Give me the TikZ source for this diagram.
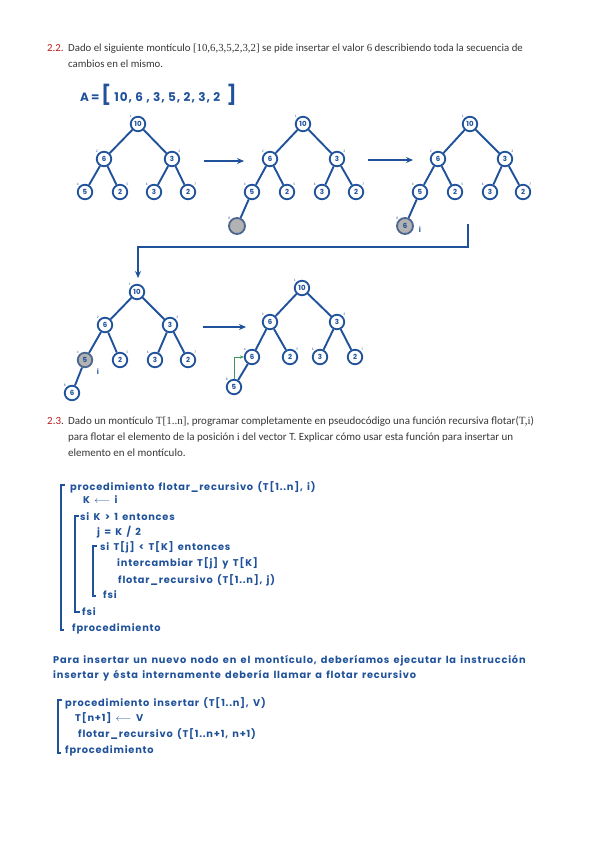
\documentclass[tikz,border=0pt]{standalone}
\usepackage{fontspec}
\setmainfont{Carlito}
\newfontfamily\serif{Liberation Serif}
\newfontfamily\hw[LetterSpace=8,WordSpace=1.5]{Poppins}
\newfontfamily\hwd{Poppins}
\usetikzlibrary{arrows.meta}
\definecolor{hblue}{RGB}{32,82,155}
\definecolor{hgreen}{RGB}{60,150,95}
\definecolor{hgray}{RGB}{178,178,178}
\definecolor{ttext}{RGB}{55,55,55}
\definecolor{tred}{RGB}{192,30,30}
\begin{document}
\begin{tikzpicture}[x=1pt,y=-1pt,
  hn/.style={circle, draw=hblue, line width=1.8pt, minimum size=14.5pt, inner sep=0pt, text=hblue, font=\hwd\bfseries\fontsize{7}{7}\selectfont},
  gn/.style={hn, fill=hgray, draw=hblue!55!gray},
  idx/.style={font=\fontsize{3.5}{3.5}\selectfont, text=hblue, inner sep=0.3pt},
  edge/.style={draw=hblue, line width=1.9pt},
  bigarrow/.style={draw=hblue, line width=1.4pt, -{Stealth[length=7pt,width=6pt]}},
  garrow/.style={draw=hgreen, line width=0.9pt, -{Stealth[length=4pt,width=3.5pt]}},
  ptext/.style={anchor=base west, inner sep=0pt, text=ttext, font=\fontsize{10.8}{12}\selectfont},
  ptextb/.style={ptext, font=\fontsize{11}{12}\selectfont},
  hwtext/.style={anchor=base west, inner sep=0pt, text=hblue, font=\hw\bfseries\fontsize{9.8}{10}\selectfont},
  brk/.style={draw=hblue, line width=1.3pt},
  ilab/.style={inner sep=0pt, text=hblue, font=\hwd\bfseries\fontsize{7}{7}\selectfont}]
\fill[white] (0,0) rectangle (599,848);
\useasboundingbox (0,0) rectangle (599,848);

% ---------- exercise 2.2 text ----------
\node[ptext] (t22n) at (47,52) {\textcolor{tred}{2.2.}};
\node[ptext] (t22a) at (68,52) {Dado el siguiente montículo {\serif [10,6,3,5,2,3,2]} se pide insertar el valor {\serif 6} describiendo toda la secuencia de};
\node[ptext] (t22b) at (68,68) {cambios en el mismo.};

\node[anchor=base west, inner sep=0pt, text=hblue, font=\hw\bfseries\fontsize{12}{12}\selectfont] (arr) at (80,102)
  {A\,=\,{\fontsize{19}{19}\selectfont[}\;10,\;6\;,\;3,\;5,\;2,\;3,\;2\;\;{\fontsize{19}{19}\selectfont]}};

% ---------- tree 1 ----------
\begin{scope}[shift={(138,124)}]
\node[hn, label={[idx]135:1}] (a1) at (0,0) {10};
\node[hn, label={[idx]135:2}] (a2) at (-34,35) {6};
\node[hn, label={[idx]45:3}] (a3) at (34,35) {3};
\node[hn, label={[idx]135:4}] (a4) at (-53,68) {5};
\node[hn, label={[idx]45:5}] (a5) at (-18,68) {2};
\node[hn, label={[idx]135:6}] (a6) at (16,68) {3};
\node[hn, label={[idx]45:7}] (a7) at (50,68) {2};
\end{scope}
\draw[edge] (a1)--(a2) (a1)--(a3) (a2)--(a4) (a2)--(a5) (a3)--(a6) (a3)--(a7);

% ---------- tree 2 ----------
\begin{scope}[shift={(303,124)}]
\node[hn, label={[idx]135:1}] (b1) at (0,0) {10};
\node[hn, label={[idx]135:2}] (b2) at (-33,35) {6};
\node[hn, label={[idx]45:3}] (b3) at (34,35) {3};
\node[hn, label={[idx]135:4}] (b4) at (-51,68) {5};
\node[hn, label={[idx]45:5}] (b5) at (-16,68) {2};
\node[hn, label={[idx]135:6}] (b6) at (19,68) {3};
\node[hn, label={[idx]45:7}] (b7) at (53,68) {2};
\node[gn, minimum size=16pt, label={[idx]135:8}] (b8) at (-66,102) {};
\end{scope}
\draw[edge] (b1)--(b2) (b1)--(b3) (b2)--(b4) (b2)--(b5) (b3)--(b6) (b3)--(b7) (b4)--(b8);

% ---------- tree 3 ----------
\begin{scope}[shift={(470,124)}]
\node[hn, label={[idx]135:1}] (c1) at (0,0) {10};
\node[hn, label={[idx]135:2}] (c2) at (-32,35) {6};
\node[hn, label={[idx]45:3}] (c3) at (35,35) {3};
\node[hn, label={[idx]135:4}] (c4) at (-50,68) {5};
\node[hn, label={[idx]45:5}] (c5) at (-15,68) {2};
\node[hn, label={[idx]135:6}] (c6) at (20,68) {3};
\node[hn, label={[idx]45:7}] (c7) at (53,68) {2};
\node[gn, minimum size=16pt, label={[idx]135:8}] (c8) at (-65,102) {6};
\end{scope}
\draw[edge] (c1)--(c2) (c1)--(c3) (c2)--(c4) (c2)--(c5) (c3)--(c6) (c3)--(c7) (c4)--(c8);
\node[ilab] (ci) at (420,230) {i};

% ---------- tree 4 ----------
\begin{scope}[shift={(137,292)}]
\node[hn, label={[idx]135:1}] (d1) at (0,0) {10};
\node[hn, label={[idx]135:2}] (d2) at (-32,33) {6};
\node[hn, label={[idx]45:3}] (d3) at (33,33) {3};
\node[gn, label={[idx]135:4}] (d4) at (-52,68) {5};
\node[hn, label={[idx]45:5}] (d5) at (-17,68) {2};
\node[hn, label={[idx]135:6}] (d6) at (18,68) {3};
\node[hn, label={[idx]45:7}] (d7) at (51,68) {2};
\node[hn, label={[idx]135:8}] (d8) at (-65,101) {6};
\end{scope}
\draw[edge] (d1)--(d2) (d1)--(d3) (d2)--(d4) (d2)--(d5) (d3)--(d6) (d3)--(d7) (d4)--(d8);
\node[ilab] (di) at (98,372) {i};

% ---------- tree 5 ----------
\begin{scope}[shift={(302,288)}]
\node[hn, label={[idx]135:1}] (e1) at (0,0) {10};
\node[hn, label={[idx]135:2}] (e2) at (-32,34) {6};
\node[hn, label={[idx]45:3}] (e3) at (35,34) {3};
\node[hn, label={[idx]135:4}] (e4) at (-50,69) {6};
\node[hn, label={[idx]45:5}] (e5) at (-12,69) {2};
\node[hn, label={[idx]135:6}] (e6) at (18,69) {3};
\node[hn, label={[idx]45:7}] (e7) at (53,69) {2};
\node[hn, label={[idx]135:8}] (e8) at (-68,99) {5};
\end{scope}
\draw[edge] (e1)--(e2) (e1)--(e3) (e2)--(e4) (e2)--(e5) (e3)--(e6) (e3)--(e7) (e4)--(e8);
\draw[garrow] (e8.north) |- (e4.west);

% ---------- arrows between trees ----------
\coordinate (p1s) at (204,161);
\coordinate (p1e) at (244,161);
\coordinate (p2s) at (368,160);
\coordinate (p2e) at (413,160);
\coordinate (p3s) at (203,327);
\coordinate (p3e) at (246,327);
\draw[bigarrow] (p1s) -- (p1e);
\draw[bigarrow] (p2s) -- (p2e);
\draw[bigarrow] (p3s) -- (p3e);
\coordinate (cs) at (468,224);
\coordinate (ce) at (138,278);
\draw[bigarrow] (cs) -- ++(0,23) -| (ce);

% ---------- exercise 2.3 text ----------
\node[ptextb] (t23n) at (47,424) {\textcolor{tred}{2.3}.};
\node[ptextb] (t23a) at (68,424) {Dado un montículo {\serif T[1..n]}, programar completamente en pseudocódigo una función recursiva flotar({\serif T,i})};
\node[ptextb] (t23b) at (68,440) {para flotar el elemento de la posición {\serif i} del vector T. Explicar cómo usar esta función para insertar un};
\node[ptextb] (t23c) at (68,456) {elemento en el montículo.};

% ---------- pseudocode 1 ----------
\draw[brk] (65,485) -- (61,485) -- (61,630) -- (64,630);
\draw[brk] (79,516) -- (75,516) -- (75,612) -- (80,612);
\draw[brk] (97,546) -- (93,546) -- (93,596) -- (96,596);
\node[hwtext] (l1) at (70,490) {procedimiento flotar\_recursivo (T[1..n], i)};
\node[hwtext] (l2) at (83,503) {K $\longleftarrow$ i};
\node[hwtext] (l3) at (80,520) {si K > 1 entonces};
\node[hwtext] (l4) at (97,535) {j = K / 2};
\node[hwtext] (l5) at (100,550) {si T[j] < T[K] entonces};
\node[hwtext] (l6) at (117,566) {intercambiar T[j] y T[K]};
\node[hwtext] (l7) at (118,583) {flotar\_recursivo (T[1..n], j)};
\node[hwtext] (l8) at (103,598) {fsi};
\node[hwtext] (l9) at (82,615) {fsi};
\node[hwtext] (l10) at (72,631) {fprocedimiento};

% ---------- explanation ----------
\node[hwtext] (e1t) at (53,663) {Para insertar un nuevo nodo en el montículo, deberíamos ejecutar la instrucción};
\node[hwtext] (e2t) at (53,678) {insertar y ésta internamente debería llamar a flotar recursivo};

% ---------- pseudocode 2 ----------
\draw[brk] (62,700) -- (58,700) -- (58,753) -- (61,753);
\node[hwtext] (m1) at (65,706) {procedimiento insertar (T[1..n], V)};
\node[hwtext] (m2) at (75,721) {T[n+1] $\longleftarrow$ V};
\node[hwtext] (m3) at (78,737) {flotar\_recursivo (T[1..n+1, n+1)};
\node[hwtext] (m4) at (65,753) {fprocedimiento};
\end{tikzpicture}
\end{document}
